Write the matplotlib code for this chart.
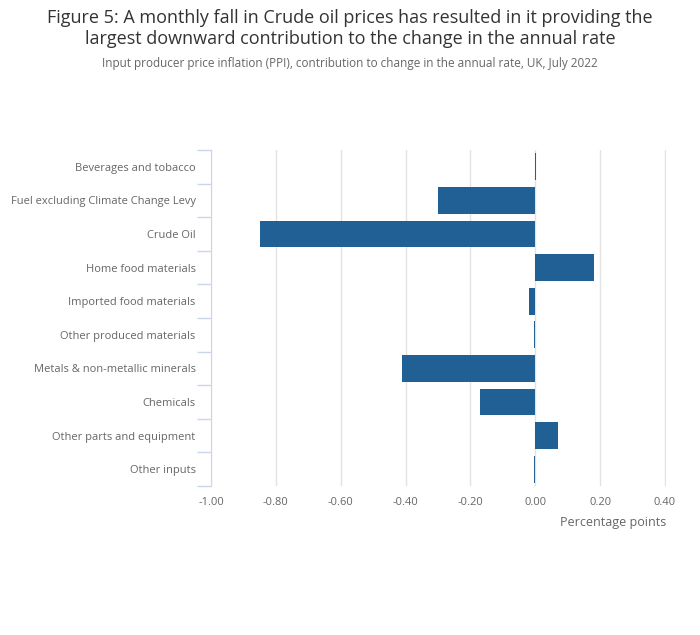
import matplotlib.pyplot as plt
from matplotlib.ticker import FixedLocator, NullFormatter

plt.rcParams['font.family'] = ['Open Sans', 'DejaVu Sans']

# Contribution to change in the annual rate, percentage points
categories = [
    'Beverages and tobacco',
    'Fuel excluding Climate Change Levy',
    'Crude Oil',
    'Home food materials',
    'Imported food materials',
    'Other produced materials',
    'Metals & non-metallic minerals',
    'Chemicals',
    'Other parts and equipment',
    'Other inputs',
]
values = [0.003, -0.30, -0.85, 0.18, -0.02, -0.003, -0.41, -0.17, 0.07, -0.003]
x_ticks = [-1.0, -0.8, -0.6, -0.4, -0.2, 0.0, 0.2, 0.4]

fig = plt.figure(figsize=(7, 6.35), dpi=100)
ax = fig.add_axes([211 / 700, 1 - 486 / 635, 455 / 700, 336 / 635])

pos = list(range(len(categories)))
ax.barh(pos, values, height=0.8, color='#206095', zorder=3)

ax.set_ylim(len(categories) - 0.5, -0.5)
ax.set_xlim(-1.0, 0.403)
ax.set_xticks(x_ticks)
ax.set_xticklabels(['%.2f' % t for t in x_ticks])
ax.grid(axis='x', color='#e2e2e2', linewidth=1, zorder=0)

# category labels at centres, tick marks at band edges
ax.set_yticks(pos)
ax.set_yticklabels(categories)
ax.yaxis.set_minor_locator(FixedLocator([p - 0.5 for p in pos] + [len(pos) - 0.5]))
ax.yaxis.set_minor_formatter(NullFormatter())
ax.tick_params(axis='y', which='major', length=0, pad=11, labelsize=8, labelcolor='#666666')
ax.tick_params(axis='y', which='minor', length=10, width=1, color='#ccd6eb')
ax.tick_params(axis='x', length=0, pad=8, labelsize=8, labelcolor='#666666')

for s in ['top', 'right', 'bottom']:
    ax.spines[s].set_visible(False)
ax.spines['left'].set_color('#ccd6eb')

ax.set_xlabel('Percentage points', fontsize=9, color='#666666', loc='right', labelpad=6)

fig.text(0.5, 1 - 18 / 635, 'Figure 5: A monthly fall in Crude oil prices has resulted in it providing the',
         ha='center', va='center', fontsize=13, color='#333333')
fig.text(0.5, 1 - 39 / 635, 'largest downward contribution to the change in the annual rate',
         ha='center', va='center', fontsize=13, color='#333333')
fig.text(0.5, 1 - 64 / 635, 'Input producer price inflation (PPI), contribution to change in the annual rate, UK, July 2022',
         ha='center', va='center', fontsize=8.5, color='#666666')

fig.savefig('out.png', dpi=100)
